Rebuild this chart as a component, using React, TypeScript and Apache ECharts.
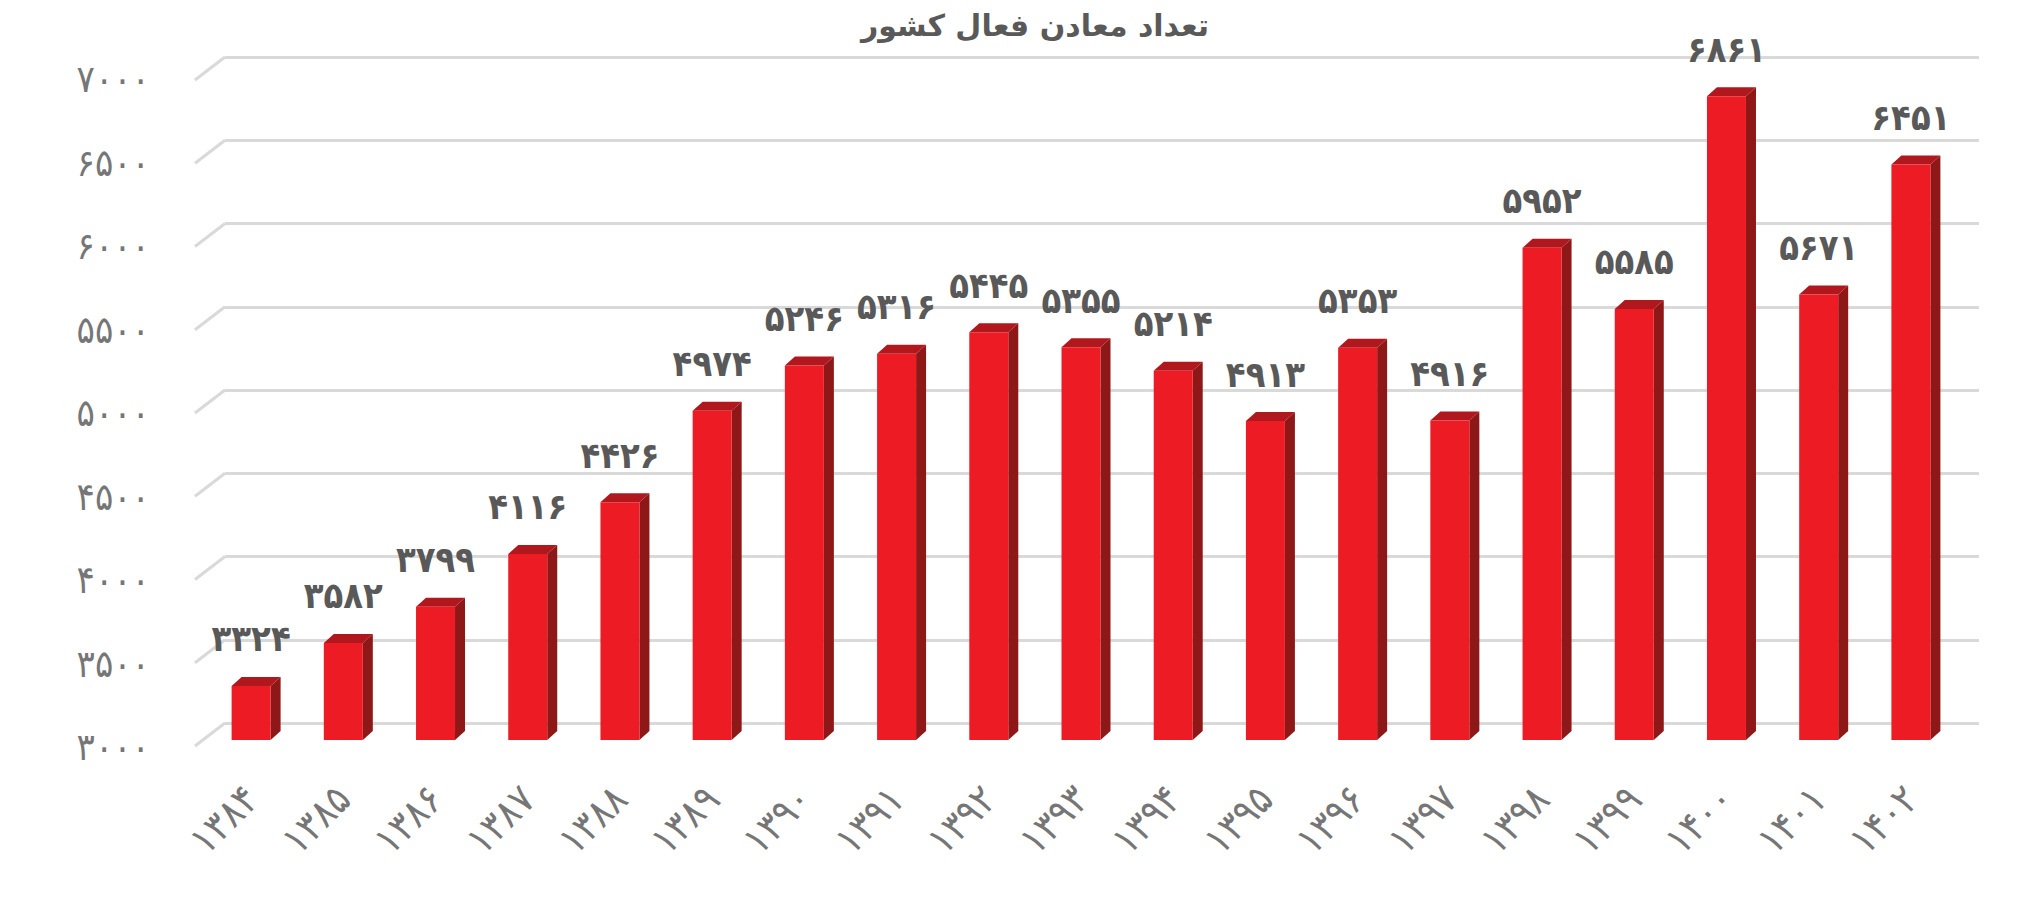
import { useEffect, useRef } from 'react';
import * as echarts from 'echarts';

/* ───── Data ───── */
const years = [1384, 1385, 1386, 1387, 1388, 1389, 1390, 1391, 1392, 1393, 1394, 1395, 1396, 1397, 1398, 1399, 1400, 1401, 1402];
const mines = [3324, 3582, 3799, 4116, 4426, 4974, 5246, 5316, 5445, 5355, 5214, 4913, 5353, 4916, 5952, 5585, 6861, 5671, 6451];
const yTicks = [3000, 3500, 4000, 4500, 5000, 5500, 6000, 6500, 7000];
const chartTitle = 'تعداد معادن فعال کشور';

const Y_MIN = 3000;
const Y_MAX = 7000;
const FONT = '"DejaVu Sans", sans-serif';
const NUM_FONT = '"DejaVu Sans Condensed", "DejaVu Sans", sans-serif';

const fa = (n: number) => String(n).replace(/\d/g, d => '۰۱۲۳۴۵۶۷۸۹'[+d]);

/* ───── 3D-ish column colours ───── */
const FRONT = '#ED1C24';
const SIDE = '#8E1718';
const TOP = '#B0181E';
const GRID = '#D9D9D9';

export default function App() {
  const ref = useRef<HTMLDivElement>(null);

  useEffect(() => {
    if (!ref.current) return;
    const chart = echarts.init(ref.current, null, { renderer: 'svg' });
    const cats = years.map(fa);

    chart.setOption({
      animation: false,
      backgroundColor: '#fff',
      grid: [
        // back wall (grid lines)
        { left: 225, top: 57, width: 1754, height: 666, outerBoundsMode: 'none' },
        // columns (front plane)
        { left: 205, top: 73, width: 1752, height: 667, outerBoundsMode: 'none' },
        // value labels along the floor edge
        { left: 195, top: 79, width: 1752, height: 668, outerBoundsMode: 'none' },
      ],
      xAxis: [
        { gridIndex: 0, type: 'category', data: cats, show: false },
        {
          gridIndex: 1, type: 'category', data: cats,
          axisLine: { show: false }, axisTick: { show: false },
          axisLabel: { rotate: 45, margin: 52, fontSize: 40, color: '#767676', fontFamily: NUM_FONT, interval: 0 },
        },
        { gridIndex: 2, type: 'category', data: cats, show: false },
      ],
      yAxis: [
        {
          gridIndex: 0, type: 'value', min: Y_MIN, max: Y_MAX, interval: 500,
          axisLine: { show: false }, axisTick: { show: false }, axisLabel: { show: false },
          splitLine: { lineStyle: { color: GRID, width: 3 } },
        },
        { gridIndex: 1, type: 'value', min: Y_MIN, max: Y_MAX, show: false },
        {
          gridIndex: 2, type: 'value', min: Y_MIN, max: Y_MAX, interval: 500,
          axisLine: { show: false }, axisTick: { show: false }, splitLine: { show: false },
          axisLabel: { margin: 45, fontSize: 38, color: '#767676', fontFamily: NUM_FONT, formatter: (v: number) => fa(v) },
        },
      ],
      graphic: [
        {
          type: 'text', x: 1035, y: 25,
          style: { text: chartTitle, align: 'center', verticalAlign: 'middle', font: `bold 30px ${FONT}`, fill: '#595959' },
        },
      ],
      series: [
        // diagonal stubs of the side wall
        {
          type: 'custom', xAxisIndex: 0, yAxisIndex: 0,
          data: yTicks.map(v => [0, v]),
          encode: { x: 0, y: 1 },
          renderItem: (params: any, api: any) => {
            const p = api.coord([0, api.value(1)]);
            const x0 = params.coordSys.x;
            return {
              type: 'line',
              shape: { x1: x0 - 30, y1: p[1] + 23, x2: x0, y2: p[1] },
              style: { stroke: GRID, lineWidth: 3 },
            };
          },
          silent: true,
        },
        // columns
        {
          type: 'custom', xAxisIndex: 1, yAxisIndex: 1,
          data: mines.map((v, i) => [i, v]),
          encode: { x: 0, y: 1 },
          renderItem: (_params: any, api: any) => {
            const val = api.value(1);
            const top = api.coord([api.value(0), val]);
            const base = api.coord([api.value(0), Y_MIN]);
            const x = top[0];
            const hw = 19.5, dx = 10, dy = 9;
            return {
              type: 'group',
              children: [
                {
                  type: 'polygon',
                  shape: { points: [[x + hw, top[1]], [x + hw + dx, top[1] - dy], [x + hw + dx, base[1] - dy], [x + hw, base[1]]] },
                  style: { fill: SIDE },
                },
                {
                  type: 'polygon',
                  shape: { points: [[x - hw, top[1]], [x - hw + dx, top[1] - dy], [x + hw + dx, top[1] - dy], [x + hw, top[1]]] },
                  style: { fill: TOP },
                },
                {
                  type: 'rect',
                  shape: { x: x - hw, y: top[1], width: hw * 2, height: base[1] - top[1] },
                  style: { fill: FRONT },
                },
                {
                  type: 'text',
                  x, y: top[1] - 47,
                  style: { text: fa(val), align: 'center', verticalAlign: 'middle', font: `bold 36px ${NUM_FONT}`, fill: '#595959' },
                },
              ],
            };
          },
        },
      ],
    });

    return () => { chart.dispose(); };
  }, []);

  return <div ref={ref} style={{ position: 'fixed', left: 0, top: 0, width: '100vw', height: '100vh', background: '#fff' }} />;
}
